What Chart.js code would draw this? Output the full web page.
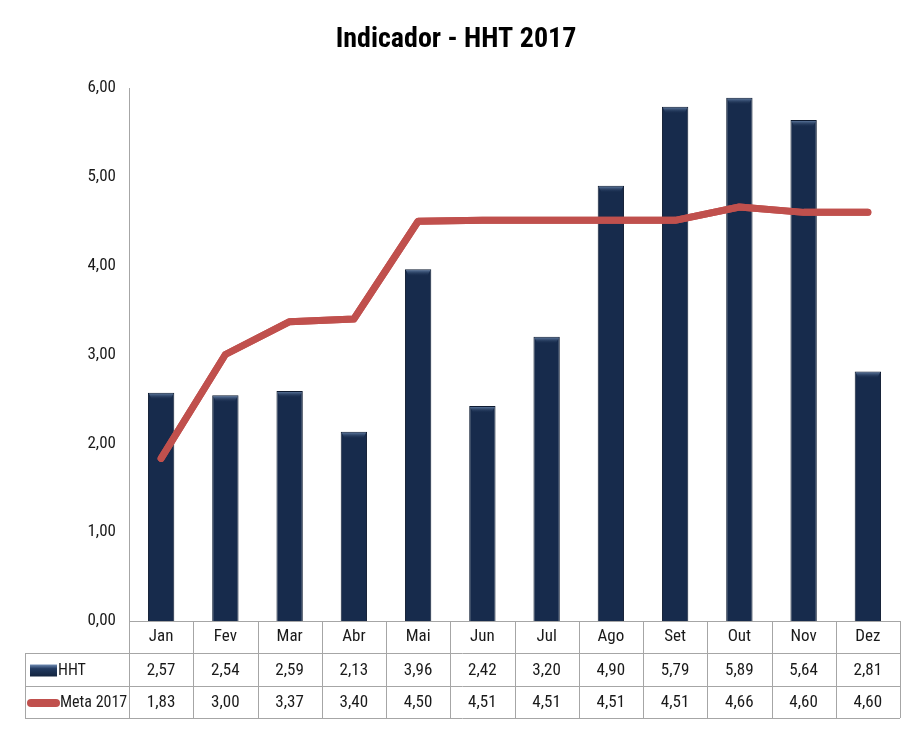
<!DOCTYPE html>
<html>
<head>
<meta charset="utf-8">
<script src="https://cdn.jsdelivr.net/npm/chart.js@4.4.1/dist/chart.umd.min.js"></script>
<style>
html,body{margin:0;padding:0;background:#fff;}
#wrap{width:913px;height:729px;position:relative;}
</style>
</head>
<body>
<div id="wrap"><canvas id="c" width="913" height="729"></canvas></div>
<script>
const categories = ['Jan','Fev','Mar','Abr','Mai','Jun','Jul','Ago','Set','Out','Nov','Dez'];
const hhtValues = [2.57, 2.54, 2.59, 2.13, 3.96, 2.42, 3.20, 4.90, 5.79, 5.89, 5.64, 2.81];
const metaValues = [1.83, 3.00, 3.37, 3.40, 4.50, 4.51, 4.51, 4.51, 4.51, 4.66, 4.60, 4.60];
const yTicks = [0, 1, 2, 3, 4, 5, 6];
const titleText = 'Indicador - HHT 2017';
const seriesNames = ['HHT', 'Meta 2017'];

const FONT = '"Liberation Sans Narrow", "Roboto Condensed", "Liberation Sans", sans-serif';
const BAR_COLOR = '#172b4c';
const LINE_COLOR = '#c0504d';
const GRID = '#a6a6a6';
const fmt = v => v.toFixed(2).replace('.', ',');

const titlePlugin = {
  id: 'titleText',
  afterDraw(chart) {
    const ctx = chart.ctx;
    ctx.save();
    ctx.fillStyle = '#000';
    ctx.font = 'bold 28px ' + FONT;
    ctx.textAlign = 'center';
    ctx.textBaseline = 'middle';
    ctx.fillText(titleText, 456, 40);
    ctx.restore();
  }
};

const bevelPlugin = {
  id: 'bevel',
  afterDatasetsDraw(chart) {
    const meta = chart.getDatasetMeta(1);
    const ctx = chart.ctx;
    ctx.save();
    meta.data.forEach(bar => {
      const w = bar.width;
      const x0 = bar.x - w / 2;
      const y0 = bar.y;
      const g = ctx.createLinearGradient(0, y0, 0, y0 + 7);
      g.addColorStop(0, 'rgba(120,150,190,0.9)');
      g.addColorStop(1, 'rgba(23,43,76,0)');
      ctx.fillStyle = g;
      ctx.beginPath();
      ctx.moveTo(x0 + 1, y0 + 1);
      ctx.lineTo(x0 + w - 1, y0 + 1);
      ctx.lineTo(x0 + w - 4, y0 + 7);
      ctx.lineTo(x0 + 4, y0 + 7);
      ctx.closePath();
      ctx.fill();
    });
    ctx.restore();
    chart.getDatasetMeta(0).controller.draw();
  }
};

const tablePlugin = {
  id: 'dataTable',
  afterDraw(chart) {
    const ctx = chart.ctx;
    const xs = chart.scales.x;
    const area = chart.chartArea;
    const left = area.left, right = area.right, top = area.bottom;
    const n = categories.length;
    const cw = (right - left) / n;
    const tableLeft = 25;
    const rowTops = [top, top + 32, top + 65, top + 97];
    ctx.save();
    ctx.strokeStyle = GRID;
    ctx.lineWidth = 1;
    ctx.beginPath();
    ctx.moveTo(left, rowTops[0] + 0.5); ctx.lineTo(right, rowTops[0] + 0.5);
    for (let r = 1; r < 4; r++) {
      ctx.moveTo(tableLeft, rowTops[r] + 0.5); ctx.lineTo(right, rowTops[r] + 0.5);
    }
    for (let i = 0; i <= n; i++) {
      const x = Math.round(left + i * cw) + 0.5;
      ctx.moveTo(x, rowTops[0]); ctx.lineTo(x, rowTops[3]);
    }
    ctx.moveTo(tableLeft + 0.5, rowTops[1]); ctx.lineTo(tableLeft + 0.5, rowTops[3]);
    ctx.stroke();

    ctx.font = '17px ' + FONT;
    ctx.fillStyle = '#1a1a1a';
    ctx.textAlign = 'center';
    ctx.textBaseline = 'middle';
    const rows = [hhtValues, metaValues];
    rows.forEach((vals, r) => {
      const yc = (rowTops[r + 1] + rowTops[r + 2]) / 2 + 1;
      vals.forEach((v, i) => {
        ctx.fillText(fmt(v), xs.getPixelForValue(i), yc);
      });
    });
    const y1 = (rowTops[1] + rowTops[2]) / 2 + 1;
    const y2 = (rowTops[2] + rowTops[3]) / 2 + 1;
    const g = ctx.createLinearGradient(0, y1 - 6, 0, y1 + 6);
    g.addColorStop(0, '#6f8bb3');
    g.addColorStop(0.35, '#223a60');
    g.addColorStop(1, '#13243f');
    ctx.fillStyle = g;
    ctx.fillRect(30, y1 - 6, 27, 12);
    ctx.strokeStyle = LINE_COLOR;
    ctx.lineWidth = 8;
    ctx.lineCap = 'round';
    ctx.beginPath();
    ctx.moveTo(31, y2); ctx.lineTo(56, y2);
    ctx.stroke();
    ctx.fillStyle = '#1a1a1a';
    ctx.textAlign = 'left';
    ctx.font = '16px ' + FONT;
    ctx.fillText(seriesNames[0], 58, y1);
    ctx.fillText(seriesNames[1], 60, y2);
    ctx.restore();
  }
};

new Chart(document.getElementById('c'), {
  data: {
    labels: categories,
    datasets: [
      {
        type: 'line',
        label: seriesNames[1],
        data: metaValues,
        borderColor: LINE_COLOR,
        backgroundColor: LINE_COLOR,
        borderWidth: 7,
        pointRadius: 0,
        tension: 0,
        borderCapStyle: 'round',
        borderJoinStyle: 'round',
        order: 0
      },
      {
        type: 'bar',
        label: seriesNames[0],
        data: hhtValues,
        backgroundColor: BAR_COLOR,
        borderColor: '#0e1b31',
        borderWidth: 1,
        barPercentage: 0.41,
        categoryPercentage: 1,
        order: 1
      }
    ]
  },
  options: {
    responsive: false,
    animation: false,
    layout: { padding: { top: 88, right: 13, left: 0, bottom: 0 } },
    plugins: {
      legend: { display: false },
      title: { display: false },
      tooltip: { enabled: false }
    },
    scales: {
      x: {
        offset: true,
        grid: { display: false, drawTicks: false },
        border: { display: true, color: GRID },
        ticks: { color: '#1a1a1a', font: { family: FONT, size: 17 }, padding: 6, maxRotation: 0 },
        afterFit(scale) { scale.height = 108; }
      },
      y: {
        min: 0,
        max: 6,
        afterBuildTicks(scale) { scale.ticks = yTicks.map(v => ({ value: v })); },
        grid: { display: false, drawTicks: false },
        border: { display: true, color: GRID },
        ticks: { color: '#1a1a1a', font: { family: FONT, size: 17 }, padding: 13, callback: v => fmt(v) },
        afterFit(scale) { scale.width = 129; }
      }
    }
  },
  plugins: [bevelPlugin, tablePlugin, titlePlugin]
});
</script>
</body>
</html>
